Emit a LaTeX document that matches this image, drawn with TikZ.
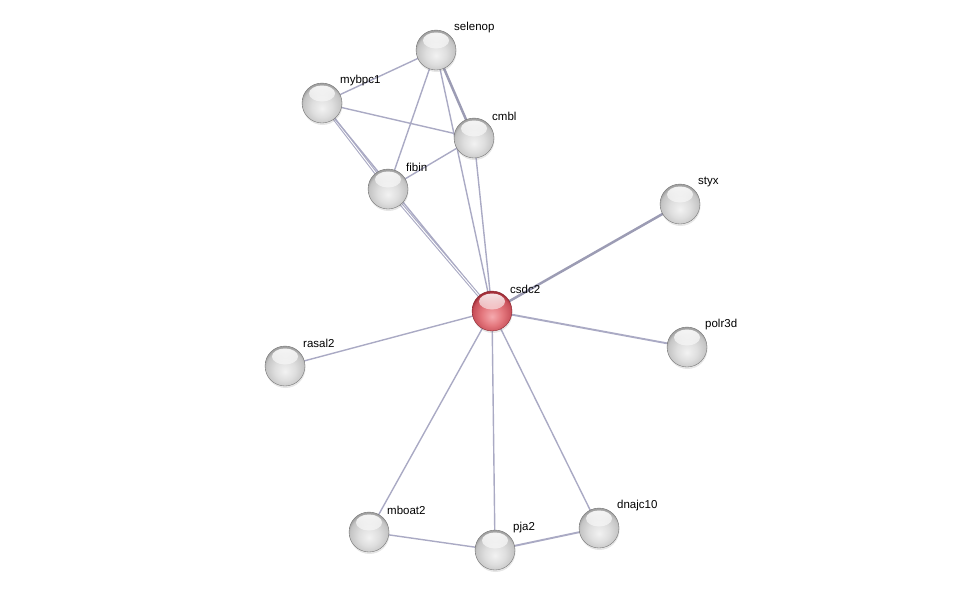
\documentclass[tikz,border=0pt]{standalone}
\usepackage{fontspec}
\setmainfont{Liberation Sans}
\usetikzlibrary{shadows,fadings}
\definecolor{gb0}{RGB}{242,242,242}
\definecolor{gb1}{RGB}{222,222,222}
\definecolor{gb2}{RGB}{196,196,196}
\definecolor{gb3}{RGB}{160,160,160}
\definecolor{rb0}{RGB}{245,170,175}
\definecolor{rb1}{RGB}{228,120,126}
\definecolor{rb2}{RGB}{200,80,90}
\definecolor{rb3}{RGB}{160,45,55}
\definecolor{edgec}{RGB}{170,170,196}
\pgfdeclareradialshading{gball}{\pgfpoint{0bp}{-7bp}}{color(0bp)=(gb0); color(13bp)=(gb1); color(24bp)=(gb2); color(27bp)=(gb3); color(50bp)=(gb3)}
\pgfdeclareradialshading{rball}{\pgfpoint{0bp}{-7bp}}{color(0bp)=(rb0); color(13bp)=(rb1); color(24bp)=(rb2); color(27bp)=(rb3); color(50bp)=(rb3)}
\pgfdeclarelayer{bg}
\pgfsetlayers{bg,main}
\tikzset{
  sphere/.style={circle, minimum size=40pt, inner sep=0pt, draw=gb3!70!black, line width=0.35pt,
    shading=gball, drop shadow={shadow xshift=0.5pt, shadow yshift=-2pt, opacity=0.2},
    path picture={\fill[white, path fading=south, opacity=0.9]
      ([yshift=9.5pt]path picture bounding box.center) ellipse (13pt and 8pt);}},
  redsphere/.style={sphere, shading=rball, draw=rb3!85!black},
  lab/.style={anchor=west, inner sep=0pt, font=\fontsize{11.5}{13}\selectfont, text=black},
  thin/.style={draw=edgec, line width=1.4pt},
  med/.style={draw=edgec, line width=1.9pt},
  thick/.style={draw=edgec!92!black, line width=2.5pt},
  dbl/.style={draw=edgec, line width=1.1pt, double=white, double distance=0.9pt},
}
\begin{document}
\begin{tikzpicture}[x=1pt,y=-1pt]
\useasboundingbox (0,0) rectangle (976,595);
\node[sphere] (selenop) at (436,50) {};
\node[sphere] (mybpc1) at (322,103) {};
\node[sphere] (cmbl) at (474,138) {};
\node[sphere] (fibin) at (388,189) {};
\node[sphere] (styx) at (680,204) {};
\node[redsphere] (csdc2) at (492,311) {};
\node[sphere] (polr3d) at (687,347) {};
\node[sphere] (rasal2) at (285,366) {};
\node[sphere] (mboat2) at (369,532) {};
\node[sphere] (pja2) at (495,550) {};
\node[sphere] (dnajc10) at (599,528) {};

\node[lab] (lselenop) at (454,28) {selenop};
\node[lab] (lmybpc1) at (340,81) {mybpc1};
\node[lab] (lcmbl) at (492,116) {cmbl};
\node[lab] (lfibin) at (406,167) {fibin};
\node[lab] (lstyx) at (698,182) {styx};
\node[lab] (lcsdc2) at (510,289) {csdc2};
\node[lab] (lpolr3d) at (705,325) {polr3d};
\node[lab] (lrasal2) at (303,343) {rasal2};
\node[lab] (lmboat2) at (387,510) {mboat2};
\node[lab] (lpja2) at (513,528) {pja2};
\node[lab] (ldnajc10) at (617,506) {dnajc10};

\begin{pgfonlayer}{bg}
\draw[thin] (selenop.center) -- (mybpc1.center);
\draw[thick] (selenop.center) -- (cmbl.center);
\draw[thin] (selenop.center) -- (fibin.center);
\draw[thin] (selenop.center) -- (csdc2.center);
\draw[thin] (mybpc1.center) -- (cmbl.center);
\draw[dbl] (mybpc1.center) -- (fibin.center);
\draw[thin] (mybpc1.center) -- (csdc2.center);
\draw[thin] (cmbl.center) -- (fibin.center);
\draw[thin] (cmbl.center) -- (csdc2.center);
\draw[dbl] (fibin.center) -- (csdc2.center);
\draw[thick] (styx.center) -- (csdc2.center);
\draw[med] (polr3d.center) -- (csdc2.center);
\draw[thin] (rasal2.center) -- (csdc2.center);
\draw[thin] (mboat2.center) -- (csdc2.center);
\draw[thin] (pja2.center) -- (csdc2.center);
\draw[thin] (dnajc10.center) -- (csdc2.center);
\draw[thin] (mboat2.center) -- (pja2.center);
\draw[med] (pja2.center) -- (dnajc10.center);
\end{pgfonlayer}
\end{tikzpicture}
\end{document}
